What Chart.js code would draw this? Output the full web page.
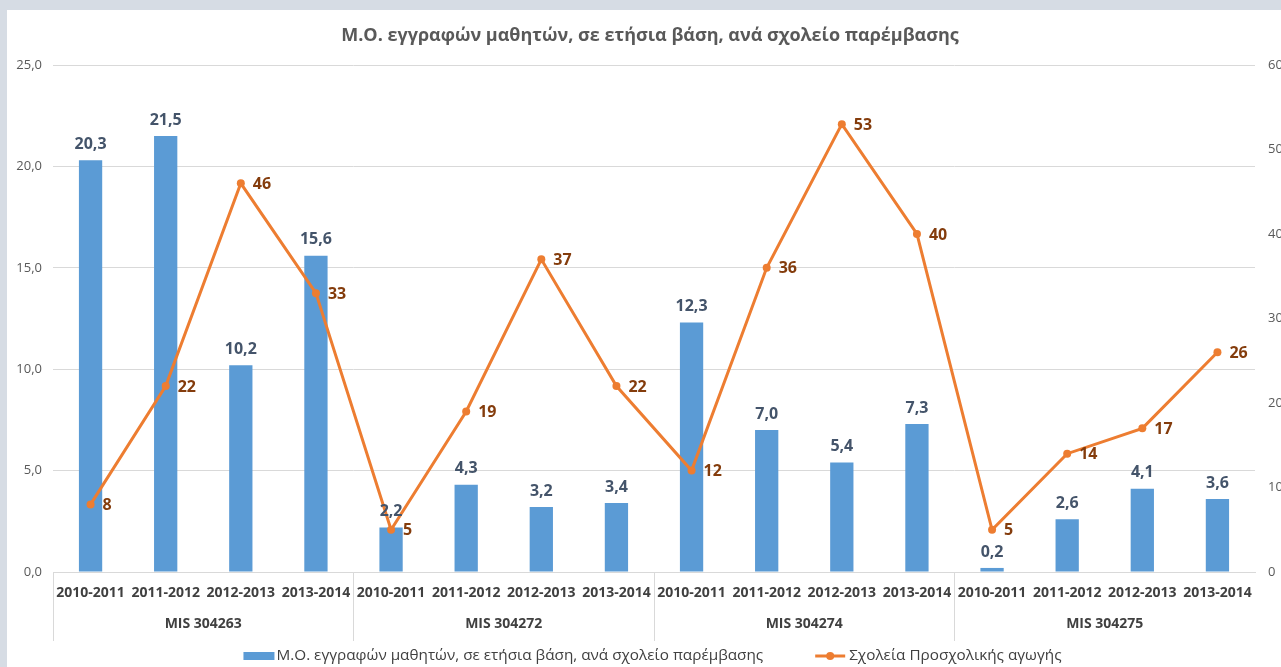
<!DOCTYPE html>
<html>
<head>
<meta charset="utf-8">
<script src="https://cdn.jsdelivr.net/npm/chart.js@4"></script>
<style>
html,body{margin:0;padding:0;background:#d6dce4;overflow:hidden;width:1281px;height:667px}
#box{position:absolute;left:7px;top:10px;width:1300px;height:657px;background:#fff}
</style>
</head>
<body>
<div id="box"><canvas id="chart"></canvas></div>
<script>
const years = ["2010-2011","2011-2012","2012-2013","2013-2014"]
const groups = ["MIS 304263","MIS 304272","MIS 304274","MIS 304275"]
const labels = groups.flatMap(()=>years)

const avgEnrol = [20.3,21.5,10.2,15.6, 2.2,4.3,3.2,3.4, 12.3,7.0,5.4,7.3, 0.2,2.6,4.1,3.6]
const preschools = [8,22,46,33, 5,19,37,22, 12,36,53,40, 5,14,17,26]

const leftTicks = [0,5,10,15,20,25]
const rightTicks = [0,10,20,30,40,50,60]

const title = "Μ.Ο. εγγραφών μαθητών, σε ετήσια βάση, ανά σχολείο παρέμβασης"
const barName = "Μ.Ο. εγγραφών μαθητών, σε ετήσια βάση, ανά σχολείο παρέμβασης"
const lineName = "Σχολεία Προσχολικής αγωγής"

const FONT = "'Open Sans', sans-serif"
const comma = v => v.toFixed(1).replace(".", ",")

// title, data labels, group labels, legend
const extras = {
  id: "extras",
  afterDatasetsDraw(chart){
    const c = chart.ctx
    const area = chart.chartArea
    const x = chart.scales.x
    const mid = (area.left+area.right)/2
    c.save()

    // title
    c.fillStyle = "#595959"
    c.font = "bold 18px " + FONT
    c.textAlign = "center"
    c.textBaseline = "middle"
    c.fillText(title, mid - 4, 26)

    // bar labels
    c.font = "bold 16px " + FONT
    c.fillStyle = "#44546a"
    chart.getDatasetMeta(0).data.forEach((bar,i)=>{
      c.textAlign = "center"
      c.fillText(comma(avgEnrol[i]), bar.x, bar.y - 16)
    })

    // line labels
    c.fillStyle = "#843c0c"
    chart.getDatasetMeta(1).data.forEach((pt,i)=>{
      c.textAlign = "left"
      c.fillText(String(preschools[i]), pt.x + 12, pt.y + 1)
    })

    // group labels
    c.font = "bold 14px " + FONT
    c.fillStyle = "#404040"
    c.textAlign = "center"
    groups.forEach((g,gi)=>{
      const a = x.getPixelForValue(gi*4)
      const b = x.getPixelForValue(gi*4+3)
      c.fillText(g, (a+b)/2, area.bottom + 52)
    })

    // legend
    c.font = "15.3px " + FONT
    c.textAlign = "left"
    const w1 = c.measureText(barName).width
    const w2 = c.measureText(lineName).width
    const total = 31 + 2 + w1 + 52 + 30 + 4 + w2
    let lx = mid - 1.5 - total/2
    const ly = area.bottom + 84
    c.fillStyle = "#5b9bd5"
    c.fillRect(lx, ly - 4, 31, 8)
    c.fillStyle = "#404040"
    c.fillText(barName, lx + 33, ly)
    lx += 33 + w1 + 52
    c.strokeStyle = "#ed7d31"
    c.lineWidth = 3
    c.beginPath(); c.moveTo(lx, ly); c.lineTo(lx+30, ly); c.stroke()
    c.fillStyle = "#ed7d31"
    c.beginPath(); c.arc(lx+15, ly, 4, 0, Math.PI*2); c.fill()
    c.fillStyle = "#404040"
    c.fillText(lineName, lx + 34, ly)

    c.restore()
  }
}

new Chart(document.getElementById("chart"), {
  data: {
    labels: labels,
    datasets: [
      {
        type: "bar",
        label: barName,
        data: avgEnrol,
        backgroundColor: "#5b9bd5",
        barPercentage: 0.31,
        categoryPercentage: 1,
        yAxisID: "y",
        order: 1
      },
      {
        type: "line",
        label: lineName,
        data: preschools,
        borderColor: "#ed7d31",
        backgroundColor: "#ed7d31",
        borderWidth: 3,
        pointRadius: 4,
        pointBorderWidth: 0,
        tension: 0,
        yAxisID: "y1",
        order: 0
      }
    ]
  },
  options: {
    responsive: true,
    maintainAspectRatio: false,
    animation: false,
    layout: { padding: { top: 55, bottom: 26, left: 0, right: 0 } },
    plugins: {
      legend: { display: false },
      tooltip: { enabled: false }
    },
    scales: {
      x: {
        offset: true,
        afterFit: s => { s.height = 69 },
        grid: {
          offset: true,
          drawOnChartArea: false,
          tickLength: 69,
          color: ctx => ctx.index % 4 === 0 ? "#d9d9d9" : "rgba(0,0,0,0)"
        },
        border: { color: "#d9d9d9" },
        ticks: {
          autoSkip: false,
          maxRotation: 0,
          padding: -56,
          color: "#404040",
          font: { family: FONT, size: 14, weight: "bold" }
        }
      },
      y: {
        position: "left",
        min: 0, max: 25,
        afterFit: s => { s.width = 46 },
        afterBuildTicks: s => { s.ticks = leftTicks.map(v=>({value:v})) },
        grid: { color: "#d9d9d9", drawTicks: false },
        border: { display: false },
        ticks: {
          padding: 11,
          color: "#595959",
          font: { family: FONT, size: 13 },
          callback: v => comma(v)
        }
      },
      y1: {
        position: "right",
        min: 0, max: 60,
        afterFit: s => { s.width = 52 },
        afterBuildTicks: s => { s.ticks = rightTicks.map(v=>({value:v})) },
        grid: { drawOnChartArea: false, drawTicks: false },
        border: { display: false },
        ticks: {
          padding: 13,
          color: "#595959",
          font: { family: FONT, size: 13 }
        }
      }
    }
  },
  plugins: [extras]
})
</script>
</body>
</html>
